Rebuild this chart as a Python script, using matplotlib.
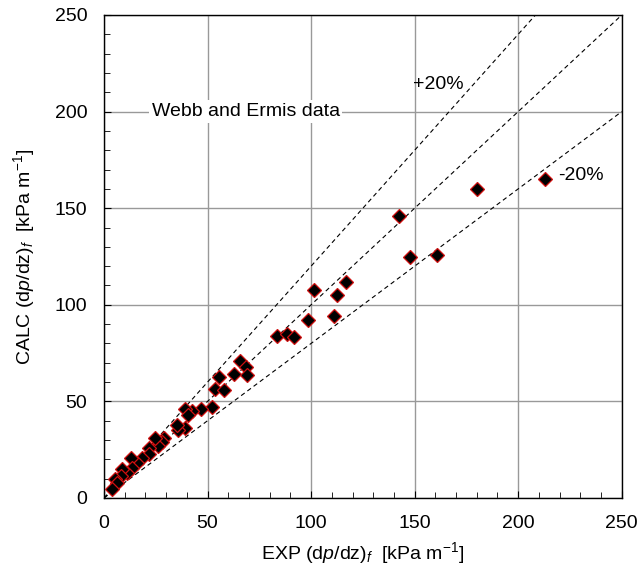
import numpy as np
import matplotlib
import matplotlib.pyplot as plt
from matplotlib.ticker import MultipleLocator
matplotlib.use('Agg')

plt.rcParams['font.family'] = ['Liberation Sans', 'DejaVu Sans']
plt.rcParams['mathtext.fontset'] = 'custom'
plt.rcParams['mathtext.rm'] = 'Liberation Sans'
plt.rcParams['mathtext.it'] = 'Liberation Sans:italic'

# Webb and Ermis data: experimental vs calculated frictional pressure gradient
exp_dpdz = [180.3, 212.8, 142.4, 147.7, 160.6, 101.4, 116.9, 112.5, 98.6, 111.2,
            83.3, 88.5, 91.7, 65.6, 68.4, 69.0, 62.9, 55.3, 53.6, 57.8,
            52.3, 47.0, 42.6, 39.3, 40.4, 39.3, 35.6, 35.4, 29.1, 28.0,
            26.2, 24.8, 21.9, 21.9, 18.2, 16.1, 12.9, 13.4, 11.0, 8.5,
            8.1, 5.3, 6.1, 3.7]
calc_dpdz = [159.9, 165.1, 146.0, 124.6, 125.6, 107.8, 111.6, 104.9, 92.1, 94.4,
             84.0, 85.1, 83.2, 71.1, 68.0, 63.7, 64.0, 62.8, 56.4, 55.7,
             47.1, 46.1, 45.2, 46.2, 42.8, 36.1, 35.2, 37.8, 30.9, 29.1,
             26.9, 30.9, 25.7, 22.6, 20.5, 18.1, 20.5, 15.4, 12.8, 14.9,
             11.4, 9.7, 7.6, 4.5]

# reference lines: perfect agreement and +/-20 %
line_factors = [1.2, 1.0, 0.8]

if __name__ == '__main__':
    fig = plt.figure(figsize=(6.4, 5.83), dpi=100)
    ax = fig.add_axes([0.1625, 0.1458, 0.809, 0.8285])

    xx = np.linspace(0, 250, 200)
    for k in line_factors:
        ax.plot(xx, k * xx, color='black', linestyle=(0, (4, 3)), linewidth=0.8, zorder=2)

    ax.plot(exp_dpdz, calc_dpdz, linestyle='none', marker='D', markersize=7,
            markerfacecolor='black', markeredgecolor='#d01010', markeredgewidth=0.9, zorder=3)

    ax.set_xlim(0, 250)
    ax.set_ylim(0, 250)
    ax.xaxis.set_major_locator(MultipleLocator(50))
    ax.yaxis.set_major_locator(MultipleLocator(50))
    ax.xaxis.set_minor_locator(MultipleLocator(10))
    ax.yaxis.set_minor_locator(MultipleLocator(10))
    ax.tick_params(which='both', direction='in', labelsize=14)
    ax.tick_params(which='major', length=5, pad=12)
    ax.tick_params(which='minor', length=4)
    ax.grid(True, which='major', color='#999999', linewidth=1.0, zorder=0)
    ax.set_axisbelow(True)
    for s in ax.spines.values():
        s.set_linewidth(1.0)

    ax.text(149, 214, '+20%', fontsize=14, va='center', ha='left')
    ax.text(219.5, 167, '-20%', fontsize=14, va='center', ha='left')
    ax.text(23, 200, 'Webb and Ermis data', fontsize=14, va='center', ha='left',
            bbox=dict(facecolor='white', edgecolor='none', pad=2), zorder=4)

    ax.set_xlabel(r'EXP (d$\mathit{p}$/dz)$_{\mathit{f}}$  [kPa m$^{\mathrm{-1}}$]', fontsize=14, labelpad=6)
    ax.set_ylabel(r'CALC (d$\mathit{p}$/dz)$_{\mathit{f}}$  [kPa m$^{\mathrm{-1}}$]', fontsize=14, labelpad=13)

    plt.savefig('out.png', dpi=100)
